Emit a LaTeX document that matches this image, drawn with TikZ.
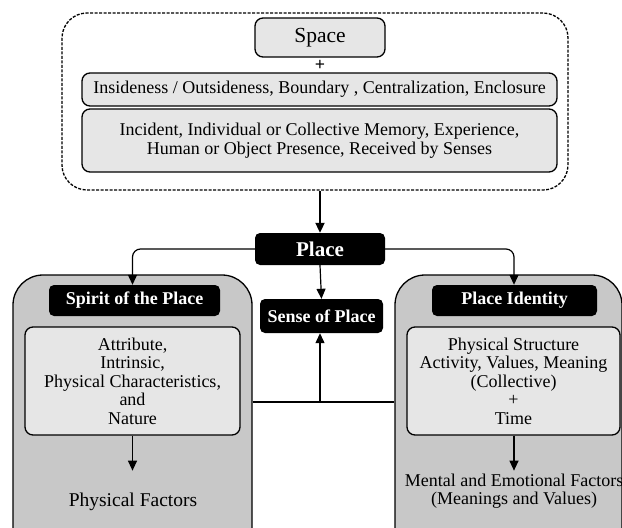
\documentclass[tikz,border=0pt]{standalone}
\usepackage{fontspec}
\setmainfont{Liberation Serif}
\usetikzlibrary{arrows.meta}
\definecolor{grisclair}{RGB}{230,230,230}
\definecolor{gris}{RGB}{200,200,200}
\tikzset{
	boite/.style={draw, line width=1.3pt, rounded corners=8pt, fill=grisclair, align=center, inner sep=0pt, font=\fontsize{18}{18.5}\selectfont},
	noire/.style={fill=black, rounded corners=5pt, text=white, inner sep=0pt, font=\fontsize{18}{18}\selectfont\bfseries},
	grande/.style={draw, line width=1.3pt, rounded corners=30pt, fill=gris, inner sep=0pt},
	fleche/.style={-{Triangle[length=10pt,width=9pt]}, line width=1.2pt}
}
\begin{document}
\begin{tikzpicture}[x=1pt,y=-1pt]
	\useasboundingbox (0,0) rectangle (622,528);
	\clip (0,0) rectangle (622,528);
	% le cadre du haut
	\node[draw, dashed, dash pattern=on 3pt off 1.5pt, line width=1.3pt, rounded corners=25pt, minimum width=506pt, minimum height=177pt] (espace) at (315,101.5) {};
	\node[boite, minimum width=130pt, minimum height=39pt, font=\fontsize{21.5}{22}\selectfont] (space) at (320,37.5) {Space};
	\node[font=\fontsize{18}{18}\selectfont\bfseries] (plus) at (320,65.5) {+};
	\node[boite, minimum width=475pt, minimum height=33pt] (inside) at (319.5,89.5) {Insideness / Outsideness, Boundary , Centralization, Enclosure};
	\node[boite, minimum width=475pt, minimum height=63pt] (incident) at (319.5,140.5) {Incident, Individual or Collective Memory, Experience,\\Human or Object Presence, Received by Senses};
	% les grandes boites
	\node[grande, minimum width=239pt, minimum height=290pt] (gauche) at (132.5,420) {};
	\node[grande, minimum width=227pt, minimum height=290pt] (droite) at (508.5,420) {};
	\node[noire, minimum width=130pt, minimum height=32pt, font=\fontsize{21}{21}\selectfont\bfseries] (place) at (320,249) {Place};
	\node[noire, minimum width=123pt, minimum height=34pt] (sense) at (321.5,316) {Sense of Place};
	\node[noire, minimum width=171pt, minimum height=31pt] (spirit) at (134.5,300.5) {Spirit of the Place};
	\node[noire, minimum width=165pt, minimum height=31pt] (identity) at (514.5,300.5) {Place Identity};
	\node[boite, minimum width=215pt, minimum height=108pt] (attr) at (132.5,381) {Attribute,\\Intrinsic,\\Physical Characteristics,\\and\\Nature};
	\node[boite, minimum width=213pt, minimum height=108pt] (struct) at (513.5,381) {Physical Structure\\Activity, Values, Meaning\\(Collective)\\+\\Time};
	\node[align=center, inner sep=0pt, font=\fontsize{19.5}{21}\selectfont] (phys) at (133,502) {Physical Factors};
	\node[align=center, inner sep=0pt, font=\fontsize{18}{18.5}\selectfont] (mental) at (514,491) {Mental and Emotional Factors\\(Meanings and Values)};
	% les fleches
	\draw[fleche, line width=2pt] (espace.south -| place.north) -- (place.north);
	\draw[fleche, rounded corners=8pt] (place.west) -| (spirit.north -| attr.south);
	\draw[fleche, rounded corners=8pt] (place.east) -| (identity.north -| mental.north);
	\draw[fleche] (place.south) -- (sense.north);
	\coordinate (j) at (320,402);
	\draw[line width=1.2pt] (gauche.east |- j) -- (droite.west |- j);
	\draw[fleche] (j) -- (j |- sense.south);
	\draw[fleche] (attr.south) -- ++(0,35);
	\draw[fleche] (struct.south -| mental.north) -- ++(0,35);
\end{tikzpicture}
\end{document}
